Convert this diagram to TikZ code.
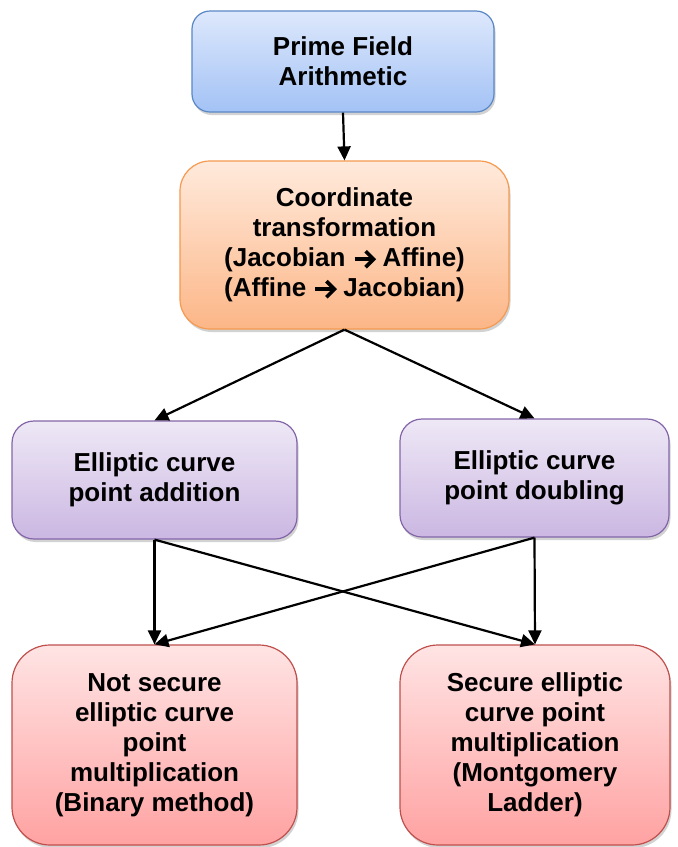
\documentclass[tikz,border=0pt]{standalone}
\usepackage{fontspec}
\setmainfont{Liberation Sans}
\usetikzlibrary{arrows.meta,shadows}
\definecolor{blueTop}{HTML}{DDE8FC}
\definecolor{blueBot}{HTML}{A3C2F5}
\definecolor{blueLine}{HTML}{5A87C6}
\definecolor{orangeTop}{HTML}{FFEADC}
\definecolor{orangeBot}{HTML}{FCB687}
\definecolor{orangeLine}{HTML}{F59A50}
\definecolor{purpleTop}{HTML}{EEE8F6}
\definecolor{purpleBot}{HTML}{CBB7E2}
\definecolor{purpleLine}{HTML}{8466A8}
\definecolor{redTop}{HTML}{FFE4E4}
\definecolor{redBot}{HTML}{FFA2A2}
\definecolor{redLine}{HTML}{C0504D}
% heavy arrow glyph used inside the coordinate-transformation box
\newcommand{\heavyarrow}{\tikz[baseline=-7.5pt, sharp corners]{%
  \draw[black, line width=3.6pt, line cap=butt] (0pt,0pt) -- (18pt,0pt);
  \draw[black, line width=3.6pt, line join=miter, line cap=butt] (11pt,8pt) -- (19pt,0pt) -- (11pt,-8pt);}}
\tikzset{
  box/.style={draw, line width=1.2pt, align=center, inner sep=0pt,
    font=\fontsize{26}{30}\selectfont\bfseries,
    drop shadow={shadow xshift=1.5pt, shadow yshift=-3pt, opacity=0.35}},
  bluebox/.style={box, draw=blueLine, top color=blueTop, bottom color=blueBot, rounded corners=18pt},
  orangebox/.style={box, draw=orangeLine, top color=orangeTop, bottom color=orangeBot, rounded corners=30pt},
  purplebox/.style={box, draw=purpleLine, top color=purpleTop, bottom color=purpleBot, rounded corners=22pt},
  redbox/.style={box, draw=redLine, top color=redTop, bottom color=redBot, rounded corners=38pt},
  link/.style={line width=2.2pt, -{Triangle[length=14pt,width=13pt]}}
}
\begin{document}
\begin{tikzpicture}[x=1pt,y=-1pt]
  \useasboundingbox (0,0) rectangle (678,847);
  \fill[white] (0,0) rectangle (678,847);

  \node[bluebox, minimum width=302pt, minimum height=101pt] (pfa) at (343,61.5)
    {Prime Field\\Arithmetic};
  \node[orangebox, minimum width=329pt, minimum height=168pt] (coord) at (344.5,245)
    {Coordinate\\transformation\\(Jacobian \heavyarrow{} Affine)\\(Affine \heavyarrow{} Jacobian)};
  \node[purplebox, minimum width=285pt, minimum height=118pt] (add) at (154.5,480)
    {Elliptic curve\\point addition};
  \node[purplebox, minimum width=269pt, minimum height=118pt] (dbl) at (534.5,478)
    {Elliptic curve\\point doubling};
  \node[redbox, minimum width=285pt, minimum height=200pt] (binary) at (154.5,745)
    {Not secure\\elliptic curve\\point\\multiplication\\(Binary method)};
  \node[redbox, minimum width=270pt, minimum height=200pt] (ladder) at (535,745)
    {Secure elliptic\\curve point\\multiplication\\(Montgomery\\Ladder)};

  \draw[link] (pfa.south) -- (coord.north);
  \draw[link] (coord.south) -- (add.north);
  \draw[link] (coord.south) -- (dbl.north);
  \draw[link] (add.south) -- (binary.north);
  \draw[link] (add.south) -- (ladder.north);
  \draw[link] (dbl.south) -- (ladder.north);
  \draw[link] (dbl.south) -- (binary.north);
\end{tikzpicture}
\end{document}
